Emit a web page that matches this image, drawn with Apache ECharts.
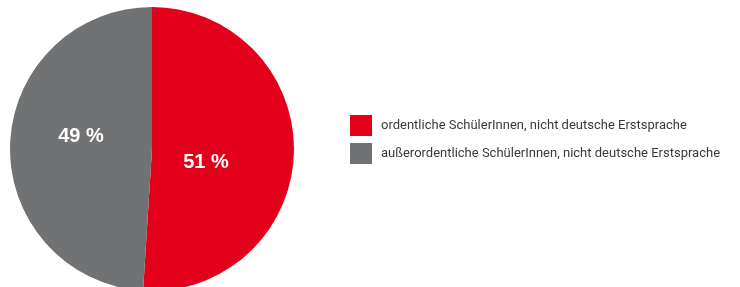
<!DOCTYPE html>
<html>
<head>
<meta charset="utf-8">
<script src="https://cdn.jsdelivr.net/npm/echarts@6/dist/echarts.min.js"></script>
<style>
  html, body { margin: 0; padding: 0; background: #fff; }
  #chart { width: 740px; height: 287px; }
</style>
</head>
<body>
<div id="chart"></div>
<script>
var categories = ['ordentliche SchülerInnen, nicht deutsche Erstsprache', 'außerordentliche SchülerInnen, nicht deutsche Erstsprache'];
var values = [51, 49];
var colors = ['#e2001a', '#717274'];
// label nudges
var labelOffsets = [[-20, 11], [3, -10]];

var chart = echarts.init(document.getElementById('chart'));

var pieData = [];
for (var i = 0; i < categories.length; i++) {
  pieData.push({
    name: categories[i],
    value: values[i],
    itemStyle: { color: colors[i] },
    label: { offset: labelOffsets[i] }
  });
}

var option = {
  animation: false,
  legend: {
    orient: 'vertical',
    left: 350,
    top: 115,
    padding: 0,
    itemWidth: 22,
    itemHeight: 21,
    itemGap: 7,
    icon: 'rect',
    textStyle: {
      fontFamily: 'Roboto, sans-serif',
      fontSize: 13,
      color: '#3a3a3a',
      padding: [0, 0, 0, 4]
    },
    data: categories
  },
  series: [
    {
      type: 'pie',
      center: [152, 149],
      radius: 142,
      startAngle: 90,
      clockwise: true,
      label: {
        position: 'inside',
        formatter: '{c} %',
        color: '#fff',
        fontFamily: '"Liberation Sans", Arial, sans-serif',
        fontWeight: 'bold',
        fontSize: 20
      },
      labelLine: { show: false },
      itemStyle: { borderWidth: 0 },
      emphasis: { disabled: true },
      data: pieData
    }
  ]
};

chart.setOption(option);
</script>
</body>
</html>
